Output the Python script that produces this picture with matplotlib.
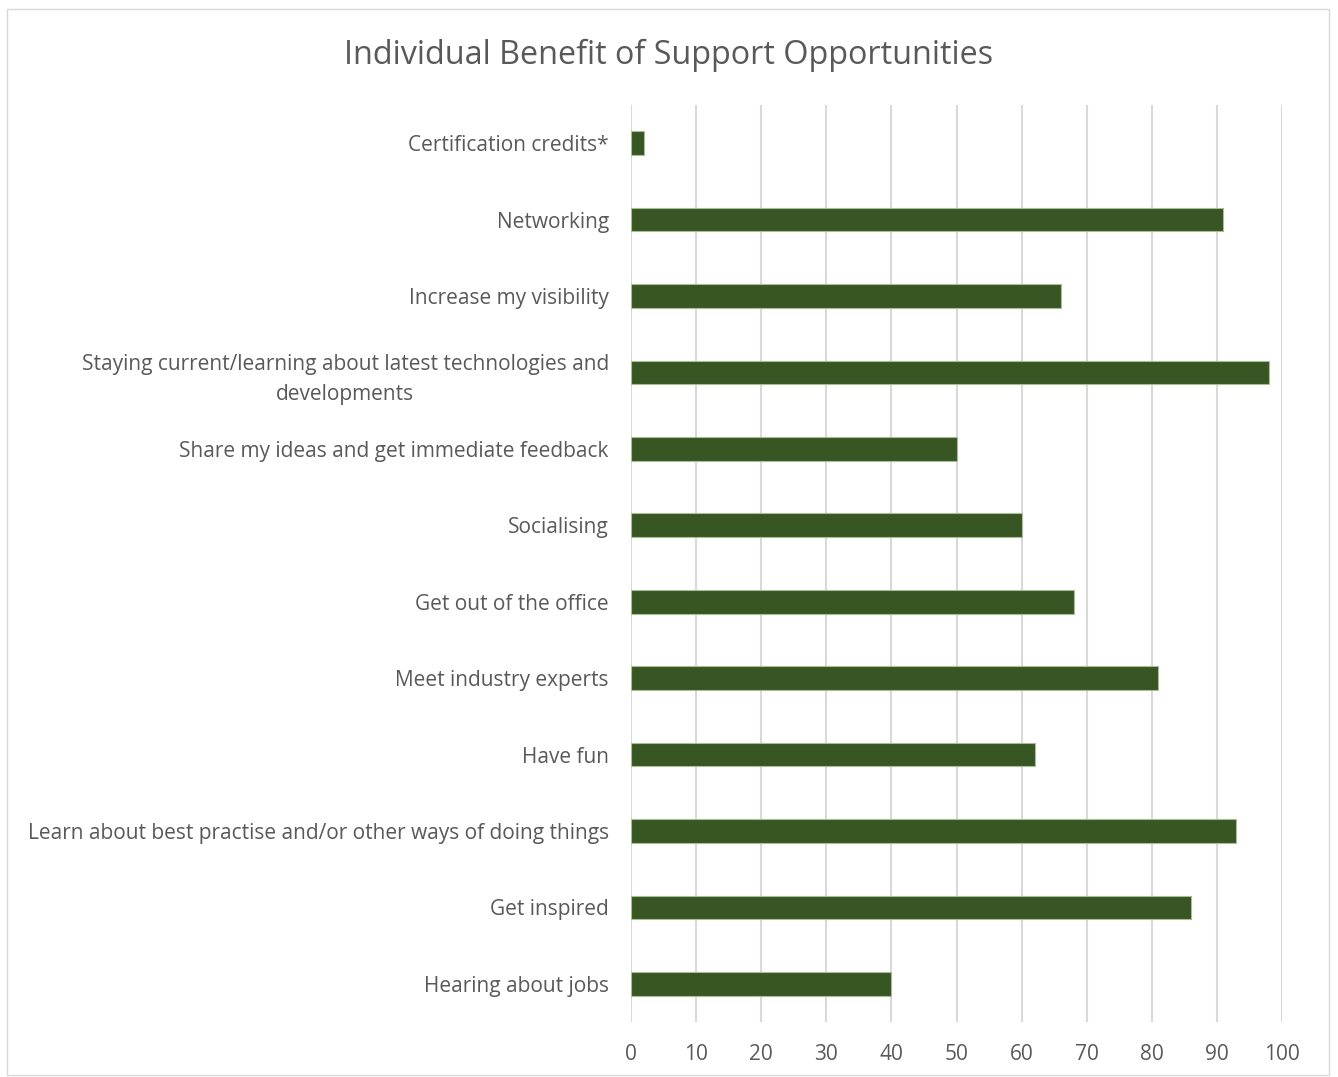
import matplotlib.pyplot as plt
from matplotlib.patches import Rectangle

categories = [
    "Certification credits*",
    "Networking",
    "Increase my visibility",
    "Staying current/learning about latest technologies and\ndevelopments",
    "Share my ideas and get immediate feedback",
    "Socialising",
    "Get out of the office",
    "Meet industry experts",
    "Have fun",
    "Learn about best practise and/or other ways of doing things",
    "Get inspired",
    "Hearing about jobs",
]
values = [2, 91, 66, 98, 50, 60, 68, 81, 62, 93, 86, 40]
x_ticks = [0, 10, 20, 30, 40, 50, 60, 70, 80, 90, 100]

plt.rcParams['font.family'] = ['Open Sans', 'DejaVu Sans']
text_color = "#595959"

fig = plt.figure(figsize=(13.38, 10.77), dpi=100, facecolor='w')
ax = fig.add_axes([0.4716, 0.051, 0.4866, 0.8515])

y_pos = list(range(len(categories)))
ax.barh(y_pos, values, height=0.31, color="#375623", edgecolor="#a8bd94",
        linewidth=0.8, zorder=3)

ax.set_ylim(len(categories) - 0.5, -0.5)
ax.set_xlim(0, 100)
ax.set_xticks(x_ticks)
ax.set_yticks(y_pos)
ax.set_yticklabels(categories, fontsize=15, color=text_color,
                   ha='right', multialignment='center', linespacing=1.55)
ax.tick_params(axis='y', length=0, pad=16)
ax.tick_params(axis='x', length=0, pad=16, labelsize=15, labelcolor=text_color)

ax.grid(axis='x', color="#d9d9d9", linewidth=1.5, zorder=0)
for s in ax.spines.values():
    s.set_visible(False)

fig.text(0.5, 0.949, "Individual Benefit of Support Opportunities",
         ha='center', va='center', fontsize=23.3, color=text_color)

fig.patches.append(Rectangle((0.005, 0.002), 0.988, 0.99, transform=fig.transFigure,
                             fill=False, edgecolor="#d9d9d9", linewidth=1))

plt.savefig("out.png", dpi=100)
